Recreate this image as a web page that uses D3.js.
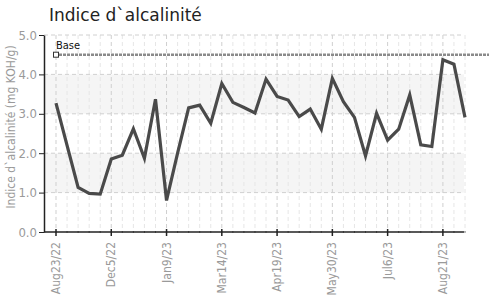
<!DOCTYPE html>
<html>
<head>
<meta charset="utf-8">
<script src="https://cdn.jsdelivr.net/npm/d3@7"></script>
<style>
  body { margin: 0; background: #fff; }
  .cond { font-family: "DejaVu Sans Condensed", "Liberation Sans Narrow", "DejaVu Sans", sans-serif; font-stretch: condensed; }
</style>
</head>
<body>
<div id="chart"></div>
<script>
var tickLabels = ["Aug23/22", "Dec5/22", "Jan9/23", "Mar14/23", "Apr19/23", "May30/23", "Jul6/23", "Aug21/23"];
var values = [3.27, 2.2, 1.13, 0.98, 0.96, 1.85, 1.95, 2.62, 1.87, 3.37,
              0.8, 2.0, 3.15, 3.22, 2.76, 3.77, 3.29, 3.16, 3.02, 3.88,
              3.44, 3.35, 2.93, 3.12, 2.61, 3.9, 3.31, 2.91, 1.93, 3.01,
              2.33, 2.61, 3.48, 2.21, 2.17, 4.37, 4.26, 2.91];
var baseValue = 4.5;
var yTicks = [0, 1, 2, 3, 4, 5];

var width = 496, height = 300;
var svg = d3.select("#chart").append("svg")
  .attr("width", width)
  .attr("height", height);

var idx = d3.range(values.length);
var x = d3.scalePoint().domain(idx).range([56, 465]);
var y = d3.scaleLinear().domain([0, 5]).range([232, 35]);
var left = 44, right = 464;

// shaded bands
[[1, 2], [3, 4]].forEach(function(b){
  svg.append("rect")
    .attr("x", left).attr("width", right - left)
    .attr("y", y(b[1])).attr("height", y(b[0]) - y(b[1]))
    .attr("fill", "#f5f5f5");
});

// grid
svg.selectAll(".vg").data(idx).enter().append("line")
  .attr("x1", function(d){ return x(d); }).attr("x2", function(d){ return x(d); })
  .attr("y1", y(5)).attr("y2", y(0))
  .attr("stroke", function(d){ return d % 5 == 0 ? "#cfcfcf" : "#e6e6e6"; })
  .attr("stroke-dasharray", "4,3");
svg.selectAll(".hg").data(yTicks.slice(1)).enter().append("line")
  .attr("x1", left).attr("x2", right)
  .attr("y1", function(d){ return y(d); }).attr("y2", function(d){ return y(d); })
  .attr("stroke", "#d0d0d0")
  .attr("stroke-dasharray", "4,3");

// y axis
var yAxis = svg.append("g")
  .attr("transform", "translate(" + left + ",0)")
  .call(d3.axisLeft(y).tickValues(yTicks).tickFormat(d3.format(".1f")).tickSize(5).tickSizeOuter(0));
yAxis.select(".domain").attr("stroke", "#222").attr("stroke-width", 1.5);
yAxis.selectAll(".tick line").attr("stroke", "#222");
yAxis.selectAll("text").attr("class", "cond").attr("fill", "#9a9a9a").style("font-size", "13px").attr("x", -7);

// x axis
var xAxis = svg.append("g")
  .attr("transform", "translate(0," + y(0) + ")");
xAxis.append("line").attr("x1", left).attr("x2", right).attr("stroke", "#222").attr("stroke-width", 1.5);
xAxis.selectAll(".mn").data(idx).enter().append("line")
  .attr("x1", function(d){ return x(d); }).attr("x2", function(d){ return x(d); })
  .attr("y1", function(d){ return d % 5 == 0 ? -3 : -1; })
  .attr("y2", function(d){ return d % 5 == 0 ? 4 : 1; })
  .attr("stroke", "#222").attr("stroke-width", function(d){ return d % 5 == 0 ? 1.5 : 0.6; });
xAxis.selectAll(".xl").data(tickLabels).enter().append("text")
  .attr("class", "cond")
  .attr("transform", function(d, i){ return "translate(" + (x(i * 5) + 4) + ",10) rotate(-90)"; })
  .attr("text-anchor", "end")
  .attr("fill", "#9a9a9a")
  .style("font-size", "12px")
  .text(function(d){ return d; });

// y label
svg.append("text")
  .attr("class", "cond")
  .attr("transform", "translate(15,127) rotate(-90)")
  .attr("text-anchor", "middle")
  .attr("fill", "#9a9a9a")
  .style("font-size", "12px")
  .text("Indice d`alcalinité (mg KOH/g)");

// base line
svg.append("line")
  .attr("x1", x(0) + 3).attr("x2", 489)
  .attr("y1", y(baseValue)).attr("y2", y(baseValue))
  .attr("stroke", "#8a8a8a").attr("stroke-width", 2.5)
  .attr("stroke-dasharray", "3,1");
svg.append("rect")
  .attr("x", x(0) - 2.5).attr("y", y(baseValue) - 2.5)
  .attr("width", 5).attr("height", 5)
  .attr("fill", "#fff").attr("stroke", "#333");
svg.append("text")
  .attr("class", "cond")
  .attr("x", x(0)).attr("y", y(baseValue) - 6)
  .attr("fill", "#111")
  .style("font-size", "11px")
  .text("Base");

// data line
var line = d3.line()
  .x(function(d, i){ return x(i); })
  .y(function(d){ return y(d); });
svg.append("path")
  .datum(values)
  .attr("d", line)
  .attr("fill", "none")
  .attr("stroke", "#4a4a4a")
  .attr("stroke-width", 3.2)
  .attr("stroke-linejoin", "miter");

// title
svg.append("text")
  .attr("x", 49).attr("y", 21)
  .attr("fill", "#222")
  .style("font-family", "'DejaVu Sans', sans-serif")
  .style("font-size", "17px")
  .text("Indice d`alcalinité");
</script>
</body>
</html>
